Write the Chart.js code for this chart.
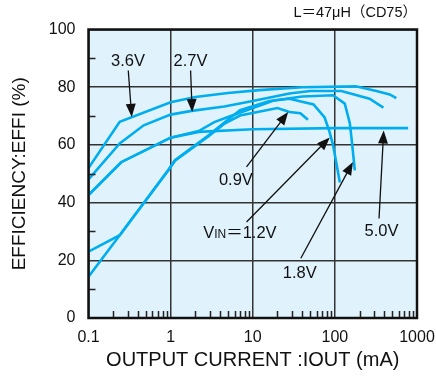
<!DOCTYPE html>
<html>
<head>
<meta charset="utf-8">
<script src="https://cdn.jsdelivr.net/npm/chart.js@4/dist/chart.umd.min.js"></script>
<style>
  html, body { margin: 0; padding: 0; background: #fff; }
  #wrap { width: 436px; height: 379px; position: relative; }
</style>
</head>
<body>
<div id="wrap"><canvas id="effChart"></canvas></div>
<script>
// 入力電圧ごとの効率カーブ (x: 出力電流 mA, y: 効率 %)
const seriesNames = ['3.6V', '2.7V', '1.8V', '5.0V', '1.2V', '0.9V'];

const iout36 = [0.1, 0.24, 1, 2, 5, 12, 40, 180, 320, 465, 560];
const eff36  = [52, 68, 74.8, 76.6, 78, 79, 80, 80.3, 78.7, 77.5, 76.2];

const iout27 = [0.1, 0.24, 0.47, 1, 1.8, 4.5, 10, 28, 50, 120, 264, 390];
const eff27  = [48, 60.5, 66.8, 70.5, 71.8, 73.3, 75.2, 77.8, 78.7, 78.7, 76, 72.9];

const iout18 = [0.1, 0.25, 1, 2.2, 3.4, 5, 18, 40, 95, 132, 152, 160, 175];
const eff18  = [42.6, 54, 62.5, 64.8, 67.9, 69.7, 75.4, 76.8, 77.2, 74.3, 67.5, 62, 51.2];

const iout50 = [0.1, 0.25, 1, 2.2, 10, 100, 780];
const eff50  = [42.6, 54, 62.5, 64.5, 65.4, 65.8, 65.8];

const iout12 = [0.1, 0.24, 0.93, 1.13, 2.9, 4.6, 7, 16, 28, 55, 75, 85, 95, 115];
const eff12  = [23, 28.7, 51.2, 54.7, 63.3, 67.9, 72, 75.2, 76, 74, 69.5, 65, 60, 47];

const iout09 = [0.1, 0.24, 0.93, 1.13, 2.9, 4.6, 7, 20, 28, 38, 47];
const eff09  = [14.3, 28.7, 51, 54.5, 63, 67.5, 70.2, 72.8, 71.4, 71, 68.7];

// 目盛り
const xTickValues = [0.1, 1, 10, 100, 1000];
const yTickValues = [0, 20, 40, 60, 80, 100];
const yMinorTicks = [10, 30, 50, 70, 90];

const curveColor = '#00aeef';
const fontFamily = '"Liberation Sans", Arial, "Noto Sans CJK JP", sans-serif';
Chart.defaults.font.family = fontFamily;
Chart.defaults.color = '#111';

function toPoints(xs, ys) {
    return xs.map((x, i) => ({ x: x, y: ys[i] }));
}

const seriesData = [
    toPoints(iout36, eff36),
    toPoints(iout27, eff27),
    toPoints(iout18, eff18),
    toPoints(iout50, eff50),
    toPoints(iout12, eff12),
    toPoints(iout09, eff09)
];

// x軸の補助目盛り (2〜9)
const xMinorTicks = [];
[0.1, 1, 10, 100].forEach(d => {
    for (let m = 2; m <= 9; m++) xMinorTicks.push(d * m);
});

// 注記 (データ座標で指定)
const notes = [
    { parts: ['3.6V'], at: [0.302, 89.6], from: [0.305, 85.8], to: [0.336, 69.7] },
    { parts: ['2.7V'], at: [1.75, 89.6], from: [1.75, 85.8], to: [1.83, 71.4] },
    { parts: ['0.9V'], at: [6.23, 48.1], from: [8.4, 52.4], to: [27, 71.4] },
    { parts: ['V', 'IN', '＝1.2V'], at: [6.97, 29.9], from: [8.4, 33.3], to: [86.7, 62.6] },
    { parts: ['1.8V'], at: [37.4, 16], from: [38.5, 20.7], to: [166, 54.1] },
    { parts: ['5.0V'], at: [369, 30.4], from: [345, 34.5], to: [393, 65] }
];

function drawArrow(ctx, x1, y1, x2, y2) {
    const len = 13, half = 5;
    const ang = Math.atan2(y2 - y1, x2 - x1);
    const c = Math.cos(ang), s = Math.sin(ang);
    ctx.beginPath();
    ctx.moveTo(x1, y1);
    ctx.lineTo(x2 - c * len * 0.8, y2 - s * len * 0.8);
    ctx.stroke();
    ctx.beginPath();
    ctx.moveTo(x2, y2);
    ctx.lineTo(x2 - len * c + half * s, y2 - len * s - half * c);
    ctx.lineTo(x2 - len * c - half * s, y2 - len * s + half * c);
    ctx.closePath();
    ctx.fill();
}

const chartDeco = {
    id: 'chartDeco',
    beforeDraw(chart) {
        const { ctx, chartArea: a } = chart;
        ctx.save();
        ctx.fillStyle = '#e0f2fb';
        ctx.fillRect(a.left, a.top, a.right - a.left, a.bottom - a.top);
        ctx.restore();
    },
    afterDatasetsDraw(chart) {
        const { ctx, chartArea: a } = chart;
        const xs = chart.scales.x, ys = chart.scales.y;
        ctx.save();

        // 補助目盛り
        ctx.strokeStyle = '#222';
        ctx.lineWidth = 1.5;
        ctx.beginPath();
        xMinorTicks.forEach(v => {
            const px = Math.round(xs.getPixelForValue(v)) + 0.5;
            ctx.moveTo(px, a.bottom);
            ctx.lineTo(px, a.bottom - 7);
        });
        yMinorTicks.forEach(v => {
            const py = Math.round(ys.getPixelForValue(v)) + 0.5;
            ctx.moveTo(a.left, py);
            ctx.lineTo(a.left + 7, py);
        });
        ctx.stroke();

        // 枠
        ctx.lineWidth = 2.5;
        ctx.strokeStyle = '#111';
        ctx.strokeRect(a.left, a.top, a.right - a.left, a.bottom - a.top);

        // 注記と矢印
        ctx.fillStyle = '#111';
        ctx.strokeStyle = '#111';
        ctx.lineWidth = 1.3;
        ctx.textBaseline = 'alphabetic';
        notes.forEach(n => {
            drawArrow(ctx,
                xs.getPixelForValue(n.from[0]), ys.getPixelForValue(n.from[1]),
                xs.getPixelForValue(n.to[0]), ys.getPixelForValue(n.to[1]));

            const sizes = n.parts.map((p, i) => (n.parts.length > 1 && i === 1) ? 12 : 16.5);
            let total = 0;
            const widths = n.parts.map((p, i) => {
                ctx.font = sizes[i] + 'px ' + fontFamily;
                const w = ctx.measureText(p).width;
                total += w;
                return w;
            });
            let cx = xs.getPixelForValue(n.at[0]) - total / 2;
            const base = ys.getPixelForValue(n.at[1]) + 6;
            ctx.textAlign = 'left';
            n.parts.forEach((p, i) => {
                ctx.font = sizes[i] + 'px ' + fontFamily;
                ctx.fillText(p, cx, base);
                cx += widths[i];
            });
        });
        ctx.restore();
    }
};

const effChart = new Chart(document.getElementById('effChart').getContext('2d'), {
    type: 'line',
    data: {
        datasets: seriesData.map((d, i) => ({
            label: seriesNames[i],
            data: d,
            borderColor: curveColor,
            backgroundColor: curveColor,
            borderWidth: 2.6,
            pointRadius: 0,
            fill: false,
            tension: 0
        }))
    },
    options: {
        responsive: true,
        maintainAspectRatio: false,
        animation: false,
        layout: { padding: { top: 0, right: 19, bottom: 0, left: 0 } },
        plugins: {
            legend: { display: false },
            tooltip: { enabled: false },
            title: {
                display: true,
                text: 'L＝47μH（CD75）',
                align: 'end',
                color: '#111',
                font: { size: 14.5, weight: 'normal' },
                padding: { top: 4.5, bottom: 7.6 }
            }
        },
        scales: {
            x: {
                type: 'logarithmic',
                min: 0.1,
                max: 1000,
                afterBuildTicks: s => { s.ticks = xTickValues.map(v => ({ value: v })); },
                afterFit: s => { s.height = 61; s.paddingLeft = 0; s.paddingRight = 0; },
                ticks: {
                    autoSkip: false,
                    maxRotation: 0,
                    padding: 10,
                    color: '#111',
                    font: { size: 16 },
                    callback: v => String(v)
                },
                grid: { color: '#333', lineWidth: 1.5, drawTicks: false },
                border: { display: false },
                title: {
                    display: true,
                    text: 'OUTPUT CURRENT :IOUT (mA)',
                    color: '#111',
                    font: { size: 20 },
                    padding: { top: 0, bottom: 7 }
                }
            },
            y: {
                min: 0,
                max: 100,
                afterBuildTicks: s => { s.ticks = yTickValues.map(v => ({ value: v })); },
                afterFit: s => { s.width = 88.5; s.paddingTop = 0; s.paddingBottom = 0; },
                ticks: {
                    padding: 13,
                    color: '#111',
                    font: { size: 16 }
                },
                grid: { color: '#333', lineWidth: 1.5, drawTicks: false },
                border: { display: false },
                title: {
                    display: true,
                    text: 'EFFICIENCY:EFFI (%)',
                    color: '#111',
                    font: { size: 19 },
                    padding: { top: 8, bottom: 0 }
                }
            }
        }
    },
    plugins: [chartDeco]
});
</script>
</body>
</html>
